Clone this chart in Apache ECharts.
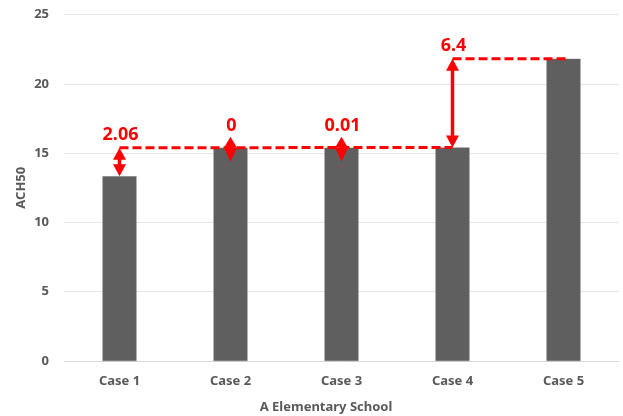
<!DOCTYPE html>
<html>
<head>
<meta charset="utf-8">
<script src="https://cdn.jsdelivr.net/npm/echarts@6/dist/echarts.min.js"></script>
<style>
  html, body { margin: 0; padding: 0; background: #fff; }
  #chart { width: 623px; height: 416px; }
</style>
</head>
<body>
<div id="chart"></div>
<script>
// Airtightness (ACH50) per case
const categories = ['Case 1', 'Case 2', 'Case 3', 'Case 4', 'Case 5'];
const ach50 = [13.33, 15.39, 15.39, 15.40, 21.80];
// Step change from each case to the next
const stepLabels = ['2.06', '0', '0.01', '6.4'];
const yTicks = [0, 5, 10, 15, 20, 25];

const RED = '#ff0000';
const GREY_TEXT = '#595959';
const FONT = '"Noto Sans", sans-serif';

function arrowHead(x, tipY, baseY) {
  return {
    type: 'polygon',
    shape: { points: [[x, tipY], [x - 6.5, baseY], [x + 6.5, baseY]] },
    style: { fill: RED }
  };
}

// Draws the dashed reference levels and the step arrows with their labels
function renderSteps(params, api) {
  const children = [];
  const dash = { stroke: RED, lineWidth: 3, lineDash: [9, 4], fill: null };

  const a = api.coord([0, ach50[1]]);
  const b = api.coord([3, ach50[3]]);
  children.push({ type: 'line', shape: { x1: a[0], y1: a[1], x2: b[0], y2: b[1] }, style: dash });

  const c = api.coord([3, ach50[4]]);
  const d = api.coord([4, ach50[4]]);
  children.push({ type: 'line', shape: { x1: c[0], y1: c[1], x2: d[0] + 2, y2: d[1] }, style: dash });

  const head = 12;
  for (let i = 0; i < stepLabels.length; i++) {
    const p0 = api.coord([i, ach50[i]]);
    const p1 = api.coord([i, ach50[i + 1]]);
    const x = p0[0];
    const yLow = Math.max(p0[1], p1[1]);
    const yHigh = Math.min(p0[1], p1[1]);
    let top;
    if (yLow - yHigh > head * 2) {
      children.push({
        type: 'line',
        shape: { x1: x, y1: yHigh + head - 1, x2: x, y2: yLow - head + 1 },
        style: { stroke: RED, lineWidth: 3.5 }
      });
      children.push(arrowHead(x, yHigh, yHigh + head));
      children.push(arrowHead(x, yLow, yLow - head));
      top = yHigh;
    } else {
      const mid = (yLow + yHigh) / 2;
      children.push(arrowHead(x, mid - 11, mid));
      children.push(arrowHead(x, mid + 14, mid));
      top = mid - 9;
    }
    children.push({
      type: 'text',
      style: {
        x: x + 1, y: top - 13,
        text: stepLabels[i],
        fill: RED,
        font: 'bold 18px ' + FONT,
        align: 'center',
        verticalAlign: 'middle'
      }
    });
  }
  return { type: 'group', children };
}

const chart = echarts.init(document.getElementById('chart'), null, { renderer: 'canvas' });
chart.setOption({
  animation: false,
  backgroundColor: '#ffffff',
  title: {
    text: 'A Elementary School',
    left: 321,
    top: 396,
    textAlign: 'center',
    textStyle: { color: GREY_TEXT, fontFamily: FONT, fontWeight: 'bold', fontSize: 13 }
  },
  grid: { left: 64, right: 4, top: 14.5, bottom: 55 },
  xAxis: {
    type: 'category',
    data: categories,
    axisLine: { lineStyle: { color: '#d9d9d9', width: 1 } },
    axisTick: { show: false },
    axisLabel: { color: GREY_TEXT, fontFamily: FONT, fontWeight: 'bold', fontSize: 13, margin: 14 }
  },
  yAxis: {
    type: 'value',
    min: yTicks[0],
    max: yTicks[yTicks.length - 1],
    interval: 5,
    name: 'ACH50',
    nameLocation: 'middle',
    nameGap: 36,
    nameMoveOverlap: false,
    nameTextStyle: { color: GREY_TEXT, fontFamily: FONT, fontWeight: 'bold', fontSize: 13 },
    axisLine: { show: false },
    axisTick: { show: false },
    splitLine: { lineStyle: { color: '#e6e6e6', width: 1 } },
    axisLabel: { color: GREY_TEXT, fontFamily: FONT, fontWeight: 'bold', fontSize: 13, margin: 15 }
  },
  series: [
    {
      type: 'bar',
      data: ach50,
      barWidth: 34,
      itemStyle: { color: '#5f5f5f', borderColor: '#707070', borderWidth: 0.5 }
    },
    {
      type: 'custom',
      data: [[0, 0]],
      clip: false,
      z: 5,
      renderItem: renderSteps
    }
  ]
});
</script>
</body>
</html>
